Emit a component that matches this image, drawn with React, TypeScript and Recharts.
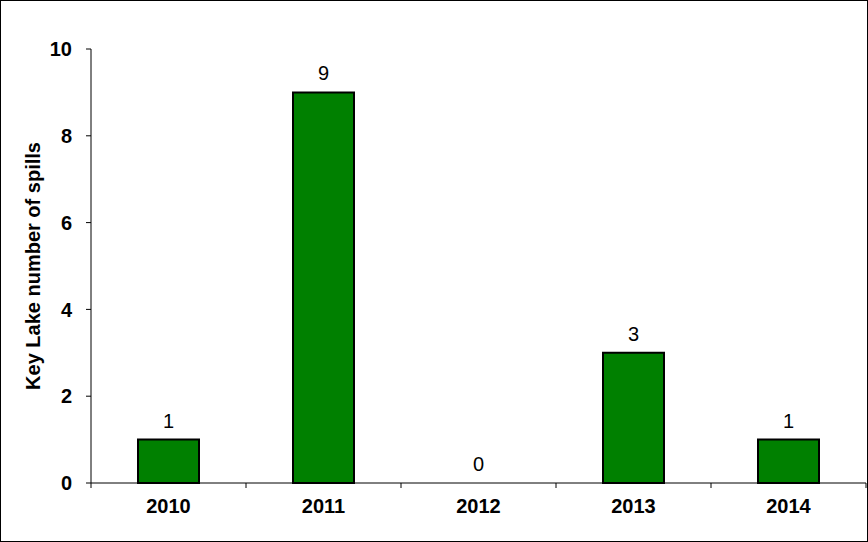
import React from 'react';
import { ComposedChart, Bar, Line, XAxis, YAxis, LabelList } from 'recharts';

const years = ['2010', '2011', '2012', '2013', '2014'];
const spills = [1, 9, 0, 3, 1];
const yTicks = [0, 2, 4, 6, 8, 10];

const data = years.map((y, i) => ({ year: y, spills: spills[i] }));

const FONT = '"Liberation Sans", Arial, sans-serif';
const FS = 20;

const CatTick = (props: any) => {
  const { x, y, payload, index, visibleTicksCount } = props;
  const half = payload && payload.offset ? payload.offset : 0;
  const axisY = y - 16;
  const isLast = index === (visibleTicksCount ?? years.length) - 1;
  return (
    <g>
      <line x1={x - half} x2={x - half} y1={axisY} y2={axisY + 5} stroke="#000" strokeWidth={1} />
      {isLast && <line x1={x + half} x2={x + half} y1={axisY} y2={axisY + 5} stroke="#000" strokeWidth={1} />}
      <text x={x} y={y} dy="0.71em" textAnchor="middle" fill="#000" fontSize={FS} fontWeight="bold" fontFamily={FONT}>
        {payload.value}
      </text>
    </g>
  );
};

export default function App() {
  return (
    <div style={{ position: 'absolute', left: 0, top: 0, width: 868, height: 542, background: '#fff', fontFamily: FONT }}>
      <ComposedChart width={868} height={542} data={data} margin={{ top: 49, right: 2, left: 0, bottom: 0 }}>
        <XAxis
          dataKey="year"
          tickLine={false}
          tickSize={0}
          tickMargin={16}
          axisLine={{ stroke: '#000', strokeWidth: 1 }}
          tick={<CatTick />}
          height={59}
        />
        <YAxis
          domain={[0, 10]}
          ticks={yTicks}
          width={91}
          tickSize={5}
          tickMargin={14}
          axisLine={{ stroke: '#000', strokeWidth: 1 }}
          tickLine={{ stroke: '#000', strokeWidth: 1 }}
          tick={{ fill: '#000', fontSize: FS, fontWeight: 'bold', fontFamily: FONT }}
          label={{
            value: 'Key Lake number of spills',
            angle: -90,
            position: 'insideLeft',
            dx: 28,
            style: { textAnchor: 'middle', fill: '#000', fontSize: FS, fontWeight: 'bold', fontFamily: FONT },
          }}
        />
        <Bar dataKey="spills" fill="#008000" stroke="#000" strokeWidth={2} barSize={61} isAnimationActive={false} />
        <Line dataKey="spills" stroke="none" dot={false} activeDot={false} isAnimationActive={false} legendType="none">
          <LabelList dataKey="spills" position="top" offset={12} style={{ fill: '#000', fontSize: FS, fontFamily: FONT }} />
        </Line>
      </ComposedChart>
      <div style={{ position: 'absolute', left: 0, top: 0, width: 868, height: 542, boxSizing: 'border-box', border: '1px solid #000', pointerEvents: 'none' }} />
    </div>
  );
}
